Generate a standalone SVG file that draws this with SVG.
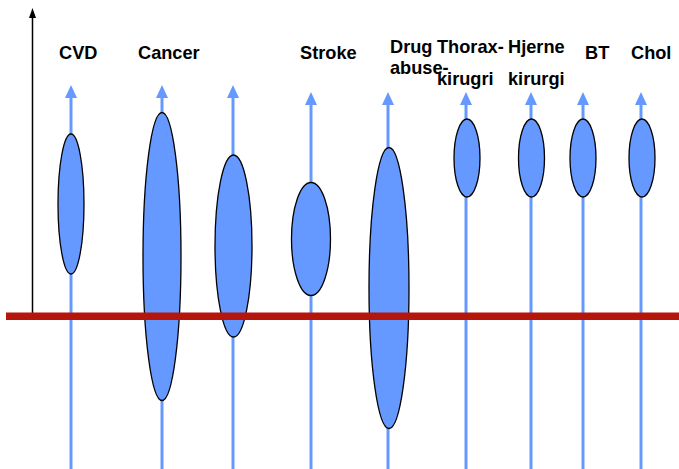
<svg xmlns="http://www.w3.org/2000/svg" width="679" height="469" viewBox="0 0 679 469">
<style>
.lbl{font-family:"Liberation Sans",Arial,sans-serif;font-size:18.2px;font-weight:bold;fill:#000}
.stem{stroke:#6699FF;stroke-width:3;fill:none;marker-end:url(#ah)}
.blob{fill:#6699FF;stroke:#000;stroke-width:1.3}
</style>
<defs>
<marker id="ah" markerUnits="userSpaceOnUse" markerWidth="13" markerHeight="12" viewBox="0 0 13 12" refX="3" refY="6" orient="auto">
<polygon points="0,0 13,6 0,12" fill="#6699FF"/>
</marker>
</defs>
<rect width="679" height="469" fill="#fff"/>
<g id="connectors">
<path class="stem" d="M71,469V95"/>
<path class="stem" d="M162,469V95"/>
<path class="stem" d="M233,469V95"/>
<path class="stem" d="M311,469V102"/>
<path class="stem" d="M388,469V102"/>
<path class="stem" d="M466,469V102"/>
<path class="stem" d="M531,469V102"/>
<path class="stem" d="M583,469V102"/>
<path class="stem" d="M641,469V102"/>
</g>
<g id="axis">
<line x1="32.5" y1="313" x2="32.5" y2="16" stroke="#000" stroke-width="1.5"/>
<polygon points="32.5,8 36,18 29,18" fill="#000"/>
</g>
<g id="cvd"><ellipse class="blob" cx="71" cy="204" rx="13" ry="70"/><text class="lbl" x="59" y="59">CVD</text></g>
<g id="cancer"><ellipse class="blob" cx="162" cy="256.5" rx="19" ry="144"/><text class="lbl" x="138" y="59">Cancer</text></g>
<g id="col3"><ellipse class="blob" cx="233.5" cy="246" rx="18.5" ry="91"/></g>
<g id="stroke"><ellipse class="blob" cx="311" cy="239" rx="19.5" ry="56.5"/><text class="lbl" x="300" y="59">Stroke</text></g>
<g id="drug"><ellipse class="blob" cx="389" cy="288" rx="20" ry="140.5"/><text class="lbl" x="390" y="53">Drug</text><text class="lbl" x="390" y="74">abuse-</text></g>
<g id="thorax"><ellipse class="blob" cx="467" cy="158" rx="13" ry="39"/><text class="lbl" x="437" y="53">Thorax-</text><text class="lbl" x="437" y="85">kirugri</text></g>
<g id="hjerne"><ellipse class="blob" cx="531.5" cy="158" rx="13" ry="39"/><text class="lbl" x="508" y="53">Hjerne</text><text class="lbl" x="508" y="85">kirurgi</text></g>
<g id="bt"><ellipse class="blob" cx="583" cy="158" rx="13" ry="39"/><text class="lbl" x="585" y="59">BT</text></g>
<g id="chol"><ellipse class="blob" cx="642" cy="158" rx="13" ry="39"/><text class="lbl" x="631" y="59">Chol</text></g>
<g id="baseline"><rect x="6" y="312.5" width="673" height="7.5" fill="#B5150A"/></g>
</svg>
